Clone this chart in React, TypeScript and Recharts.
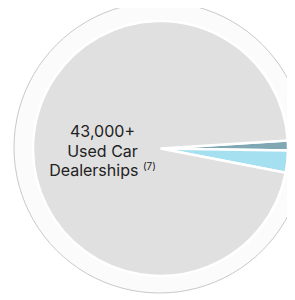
import { PieChart, Pie, Cell } from "recharts";

const segments = ["Other A", "Other B", "Used Car Dealerships"];
const values = [560, 1250, 43000];
const colors = ["#80a8b4", "#a5e0f1", "#e0e0e0"];

const ring = [{ name: "ring", value: 1 }];

const labelLines = ["43,000+", "Used Car", "Dealerships"];

export default function App() {
  const data = segments.map((name, i) => ({ name, value: values[i] }));

  return (
    <div style={{ position: "relative", width: 287, height: 292 }}>
      <PieChart width={287} height={292}>
        <Pie
          data={ring}
          dataKey="value"
          cx={146.5}
          cy={134.5}
          outerRadius={145.5}
          fill="#fbfbfb"
          stroke="#c9c9c9"
          strokeWidth={1}
          isAnimationActive={false}
        />
        <Pie
          data={data}
          dataKey="value"
          cx={147.5}
          cy={135.5}
          outerRadius={127.5}
          startAngle={3.6}
          endAngle={-356.4}
          stroke="#ffffff"
          strokeWidth={2.5}
          isAnimationActive={false}
        >
          {data.map((d, i) => (
            <Cell key={d.name} fill={colors[i]} />
          ))}
        </Pie>
      </PieChart>
      <div
        style={{
          position: "absolute",
          left: 34,
          top: 114,
          width: 121,
          textAlign: "center",
          fontFamily: "Inter, sans-serif",
          fontSize: 16,
          lineHeight: "19.5px",
          color: "#222222",
        }}
      >
        <div>{labelLines[0]}</div>
        <div>{labelLines[1]}</div>
        <div>
          {labelLines[2]} <sup style={{ fontSize: 10, lineHeight: 0 }}>(7)</sup>
        </div>
      </div>
    </div>
  );
}
